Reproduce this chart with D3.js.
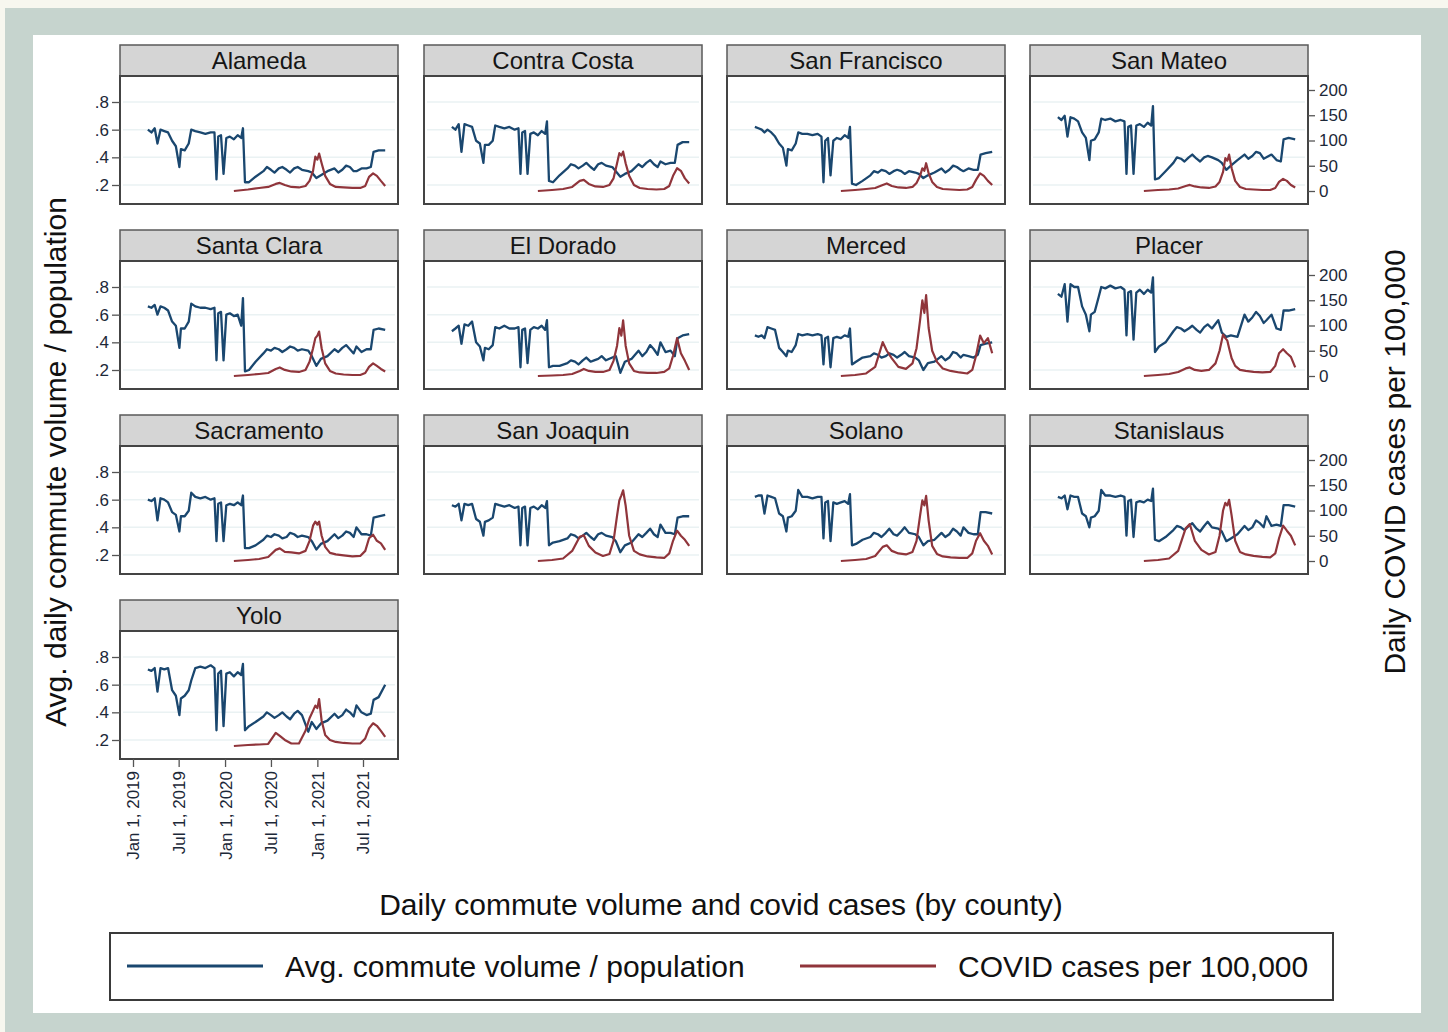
<!DOCTYPE html>
<html>
<head>
<meta charset="utf-8">
<script src="https://cdn.jsdelivr.net/npm/d3@7"></script>
<style>
  body { margin: 0; background: #f7f7ef; }
  text { font-family: "Liberation Sans", Arial, sans-serif; }
</style>
</head>
<body>
<svg width="1448" height="1032"></svg>
<script>

// Data

var commuteDates = ["2019-03-01","2019-03-15","2019-03-28","2019-04-08","2019-04-20","2019-05-05","2019-05-20",
  "2019-06-05","2019-06-20","2019-07-04","2019-07-10","2019-07-25","2019-08-10","2019-08-20","2019-09-05",
  "2019-09-25","2019-10-15","2019-11-05","2019-11-20","2019-11-28","2019-12-05","2019-12-16","2019-12-26",
  "2020-01-06","2020-01-20","2020-02-05","2020-02-20","2020-03-05","2020-03-12","2020-03-20","2020-04-05",
  "2020-05-01",
  "2020-06-01","2020-06-15","2020-07-01","2020-07-15","2020-08-01","2020-08-15","2020-09-01","2020-09-15",
  "2020-10-01","2020-10-15","2020-11-01","2020-11-26","2020-12-10","2020-12-28","2021-01-15","2021-02-10",
  "2021-03-10","2021-03-25","2021-04-10","2021-04-25","2021-05-10","2021-05-25","2021-06-05","2021-06-25",
  "2021-07-15","2021-08-01","2021-08-12","2021-09-01","2021-09-27"];

var covidDates = ["2020-02-05","2020-04-01","2020-05-15","2020-06-20","2020-07-20","2020-08-05","2020-08-25",
  "2020-09-20","2020-10-20","2020-11-15","2020-12-01","2020-12-15","2020-12-24","2021-01-01","2021-01-08",
  "2021-01-18","2021-02-01","2021-02-20","2021-03-15","2021-04-15","2021-05-20","2021-06-20","2021-07-10",
  "2021-07-25","2021-08-10","2021-08-25","2021-09-10","2021-09-27"];

var counties = ["Alameda","Contra Costa","San Francisco","San Mateo","Santa Clara","El Dorado","Merced",
  "Placer","Sacramento","San Joaquin","Solano","Stanislaus","Yolo"];

var alamedaCommute = [.60,.58,.61,.50,.60,.59,.58,.52,.48,.33,.46,.45,.50,.60,.59,.58,.57,.58,.58,.24,.55,.56,.28,.54,.55,.53,.56,.54,.61,.22,.22,.26,
  .30,.33,.31,.29,.32,.33,.31,.29,.32,.33,.31,.30,.29,.25,.27,.30,.32,.29,.31,.34,.33,.30,.30,.32,.32,.33,.44,.45,.45];
var alamedaCovid = [0,3,6,8,14,16,12,8,7,10,20,40,68,62,74,55,30,14,8,7,6,6,10,28,35,30,20,10];

var contraCostaCommute = [.62,.60,.64,.44,.64,.63,.62,.52,.50,.36,.49,.49,.52,.63,.62,.61,.62,.60,.61,.28,.58,.59,.28,.57,.58,.56,.59,.57,.66,.23,.22,.27,
  .32,.35,.34,.32,.34,.36,.33,.31,.35,.36,.34,.33,.30,.26,.28,.30,.35,.33,.36,.38,.35,.33,.37,.35,.36,.36,.49,.51,.51];
var contraCostaCovid = [0,2,4,8,20,22,14,9,8,12,25,55,75,70,78,55,30,12,6,4,3,4,10,30,45,40,25,15];

var sanFranciscoCommute = [.62,.61,.60,.58,.60,.58,.55,.50,.47,.34,.46,.45,.50,.58,.57,.57,.56,.57,.55,.22,.52,.54,.27,.52,.54,.53,.56,.54,.62,.21,.20,.23,
  .27,.30,.29,.31,.30,.28,.30,.31,.30,.28,.30,.29,.28,.25,.27,.29,.32,.29,.31,.34,.33,.31,.30,.32,.31,.31,.42,.43,.44];
var sanFranciscoCovid = [0,2,4,6,12,15,10,7,6,8,16,30,45,40,55,35,18,8,4,3,2,3,8,22,35,30,20,12];

var sanMateoCommute = [.69,.67,.70,.55,.69,.68,.66,.58,.54,.38,.52,.53,.58,.68,.67,.68,.66,.67,.66,.28,.62,.63,.28,.63,.64,.62,.65,.63,.77,.24,.25,.30,
  .36,.40,.39,.37,.40,.42,.39,.37,.40,.41,.40,.38,.36,.31,.34,.38,.42,.39,.41,.44,.43,.39,.40,.42,.38,.37,.53,.54,.53];
var sanMateoCovid = [0,2,3,5,10,12,9,7,6,9,18,38,65,60,72,45,20,8,4,3,2,2,6,18,24,20,12,7];

var santaClaraCommute = [.66,.65,.67,.60,.66,.65,.63,.55,.52,.36,.50,.50,.55,.68,.66,.65,.65,.64,.65,.27,.61,.62,.27,.60,.61,.59,.60,.52,.72,.19,.20,.26,
  .32,.35,.34,.36,.35,.33,.35,.37,.36,.34,.35,.34,.30,.23,.28,.30,.35,.33,.36,.38,.35,.32,.37,.33,.35,.35,.49,.50,.49];
var santaClaraCovid = [0,2,4,6,14,17,12,9,8,12,28,55,75,80,88,55,25,10,5,3,2,2,6,18,25,20,14,9];

var elDoradoCommute = [.48,.50,.52,.39,.53,.52,.55,.40,.37,.27,.36,.35,.38,.51,.50,.52,.50,.50,.51,.22,.49,.50,.25,.49,.51,.50,.52,.49,.56,.22,.23,.23,
  .25,.27,.26,.24,.27,.29,.26,.27,.28,.30,.27,.29,.30,.18,.26,.28,.34,.30,.33,.38,.35,.31,.40,.33,.34,.30,.43,.45,.46];
var elDoradoCovid = [0,1,2,4,10,14,10,8,8,12,30,60,95,80,110,60,25,10,7,6,6,8,15,40,75,45,30,12];

var mercedCommute = [.45,.44,.45,.43,.51,.50,.49,.36,.33,.30,.34,.33,.38,.46,.45,.46,.45,.46,.45,.24,.43,.44,.22,.43,.44,.43,.45,.44,.50,.24,.26,.29,
  .30,.32,.31,.29,.30,.32,.31,.29,.31,.33,.30,.29,.27,.20,.25,.26,.30,.27,.29,.33,.32,.29,.31,.30,.29,.31,.38,.39,.40];
var mercedCovid = [0,2,5,18,67,50,35,18,14,25,55,110,150,125,160,95,50,28,15,10,7,5,12,40,80,65,75,45];

var placerCommute = [.75,.73,.82,.55,.82,.80,.80,.66,.60,.48,.60,.62,.73,.80,.79,.81,.79,.80,.78,.45,.76,.77,.42,.76,.78,.75,.78,.76,.87,.33,.37,.40,
  .48,.51,.50,.48,.50,.52,.49,.47,.51,.53,.50,.56,.47,.44,.45,.44,.60,.55,.58,.62,.59,.54,.56,.60,.50,.49,.63,.63,.64];
var placerCovid = [0,2,4,8,15,17,12,10,12,25,50,82,75,70,55,35,20,12,10,8,7,8,20,45,53,45,38,17];

var sacramentoCommute = [.60,.59,.61,.45,.61,.60,.58,.51,.49,.37,.48,.48,.52,.65,.62,.61,.62,.60,.61,.30,.57,.58,.30,.56,.57,.56,.58,.56,.63,.25,.25,.27,
  .31,.34,.33,.35,.34,.32,.33,.36,.35,.33,.34,.33,.30,.24,.28,.30,.35,.32,.34,.37,.36,.33,.40,.35,.35,.34,.47,.48,.49];
var sacramentoCovid = [0,2,4,8,22,25,18,17,15,20,40,70,78,72,78,50,28,16,13,11,9,10,20,45,52,40,35,22];

var sanJoaquinCommute = [.56,.55,.57,.45,.57,.56,.57,.46,.44,.34,.44,.45,.47,.57,.56,.55,.56,.54,.55,.27,.54,.55,.27,.54,.55,.53,.56,.54,.59,.27,.29,.30,
  .32,.35,.34,.32,.34,.36,.33,.31,.35,.36,.34,.33,.30,.22,.27,.29,.35,.33,.36,.39,.35,.33,.42,.36,.36,.35,.47,.48,.48];
var sanJoaquinCovid = [0,2,5,20,48,51,30,17,10,14,40,90,120,130,140,110,50,20,13,9,7,6,15,40,60,50,42,30];

var solanoCommute = [.62,.63,.63,.50,.63,.62,.61,.50,.48,.37,.47,.48,.52,.67,.62,.62,.61,.62,.62,.32,.58,.59,.30,.58,.57,.58,.59,.57,.64,.27,.28,.31,
  .33,.36,.35,.33,.36,.39,.35,.34,.37,.40,.36,.35,.33,.27,.30,.31,.36,.33,.35,.39,.37,.34,.40,.36,.35,.35,.51,.51,.50];
var solanoCovid = [0,2,4,10,28,31,20,15,13,18,40,90,120,110,129,80,30,14,9,7,6,6,15,40,55,40,30,13];

var stanislausCommute = [.62,.61,.63,.53,.63,.62,.62,.50,.48,.40,.47,.48,.52,.67,.63,.63,.62,.63,.62,.34,.59,.60,.33,.58,.59,.58,.60,.59,.68,.31,.30,.33,
  .38,.41,.40,.38,.41,.43,.39,.37,.41,.44,.40,.39,.37,.30,.32,.35,.41,.38,.40,.45,.43,.40,.48,.41,.42,.41,.56,.56,.55];
var stanislausCovid = [0,2,5,20,65,73,40,22,13,18,50,100,115,110,121,90,40,18,13,10,8,7,15,45,70,60,50,31];

var yoloCommute = [.71,.70,.72,.55,.72,.71,.72,.56,.52,.38,.50,.52,.56,.63,.72,.73,.72,.74,.72,.27,.68,.70,.30,.68,.69,.66,.69,.67,.75,.27,.30,.33,
  .37,.40,.38,.36,.38,.40,.37,.35,.39,.41,.38,.26,.33,.28,.32,.34,.39,.36,.38,.42,.40,.37,.45,.40,.38,.39,.49,.51,.60];
var yoloCovid = [0,2,3,4,26,20,12,5,5,30,55,70,80,75,93,50,22,12,8,6,5,5,15,35,45,40,30,18];

var commuteSeries = [alamedaCommute, contraCostaCommute, sanFranciscoCommute, sanMateoCommute, santaClaraCommute,
  elDoradoCommute, mercedCommute, placerCommute, sacramentoCommute, sanJoaquinCommute, solanoCommute,
  stanislausCommute, yoloCommute];
var covidSeries = [alamedaCovid, contraCostaCovid, sanFranciscoCovid, sanMateoCovid, santaClaraCovid,
  elDoradoCovid, mercedCovid, placerCovid, sacramentoCovid, sanJoaquinCovid, solanoCovid,
  stanislausCovid, yoloCovid];

var leftTicks = [0.2, 0.4, 0.6, 0.8];
var rightTicks = [0, 50, 100, 150, 200];
var dateTicks = ["2019-01-01","2019-07-01","2020-01-01","2020-07-01","2021-01-01","2021-07-01"];

var blue = "#1a476f", red = "#90353b";

// Layout

var svg = d3.select("svg");

svg.append("rect").attr("x", 5).attr("y", 8).attr("width", 1443).attr("height", 1024).attr("fill", "#c6d4ce");
svg.append("rect").attr("x", 33).attr("y", 35).attr("width", 1388).attr("height", 978).attr("fill", "#fff");

var colX = [120, 424, 727, 1030],
    rowY = [45, 230, 415, 600],
    panelW = 278, headH = 31, plotH = 128;

var parseDate = d3.timeParse("%Y-%m-%d");

var x = d3.scaleTime()
    .domain([parseDate("2019-01-01"), parseDate("2021-07-01")])
    .range([13, 243]);
var yL = d3.scaleLinear().domain([0.2, 0.8]).range([109, 26]);
var yR = d3.scaleLinear().domain([0, 200]).range([115, 14]);

var lineL = d3.line()
    .x(function(d) { return x(d.date); })
    .y(function(d) { return yL(d.v); });
var lineR = d3.line()
    .x(function(d) { return x(d.date); })
    .y(function(d) { return yR(d.v); });

function pairs(dates, vals) {
  return vals.map(function(v, i) { return {date: parseDate(dates[i]), v: v}; });
}

function styleAxis(a, size) {
  a.select(".domain").remove();
  a.selectAll(".tick line").attr("stroke", "#555").attr("stroke-width", 1.3);
  a.selectAll(".tick text").attr("fill", "#1c2838").attr("font-size", size)
    .style("font-family", "'Liberation Sans', Arial, sans-serif");
}

counties.forEach(function(name, i) {
  var col = i % 4, row = Math.floor(i / 4);
  var g = svg.append("g").attr("transform", "translate(" + colX[col] + "," + rowY[row] + ")");

  // strip label
  g.append("rect").attr("width", panelW).attr("height", headH)
    .attr("fill", "#d5d5d5").attr("stroke", "#5a5a5a").attr("stroke-width", 1.5);
  g.append("text").attr("x", panelW / 2).attr("y", 24)
    .attr("text-anchor", "middle").attr("font-size", 24).attr("fill", "#151515").text(name);

  var p = g.append("g").attr("transform", "translate(0," + headH + ")");
  p.append("rect").attr("width", panelW).attr("height", plotH)
    .attr("fill", "#fff").attr("stroke", "#444").attr("stroke-width", 2);

  p.selectAll(".grid").data(leftTicks).enter().append("line")
    .attr("x1", 3).attr("x2", panelW - 3)
    .attr("y1", function(d) { return yL(d); })
    .attr("y2", function(d) { return yL(d); })
    .attr("stroke", "#eaf2f3").attr("stroke-width", 1.5);

  p.append("path").datum(pairs(commuteDates, commuteSeries[i]))
    .attr("d", lineL).attr("fill", "none").attr("stroke", blue)
    .attr("stroke-width", 2.3).attr("stroke-linejoin", "round");
  p.append("path").datum(pairs(covidDates, covidSeries[i]))
    .attr("d", lineR).attr("fill", "none").attr("stroke", red)
    .attr("stroke-width", 2.2).attr("stroke-linejoin", "round");

  if (col == 0) {
    var al = p.append("g")
      .call(d3.axisLeft(yL).tickValues(leftTicks).tickSize(8).tickPadding(3)
        .tickFormat(function(d) { return d3.format(".1f")(d).replace(/^0/, ""); }));
    styleAxis(al, 17);
  }
  if (col == 3) {
    var ar = p.append("g").attr("transform", "translate(" + panelW + ",0)")
      .call(d3.axisRight(yR).tickValues(rightTicks).tickSize(7).tickPadding(4));
    styleAxis(ar, 17);
  }
  if (i == counties.length - 1) {
    var ab = p.append("g").attr("transform", "translate(0," + plotH + ")")
      .call(d3.axisBottom(x).tickValues(dateTicks.map(parseDate)).tickSize(8)
        .tickFormat(d3.timeFormat("%b %-d, %Y")));
    styleAxis(ab, 17);
    ab.selectAll(".tick text")
      .attr("transform", "rotate(-90)")
      .attr("x", -12).attr("y", 0).attr("dy", "0.35em")
      .style("text-anchor", "end");
  }
});

// titles
svg.append("text").attr("transform", "translate(66,462) rotate(-90)")
  .attr("text-anchor", "middle").attr("font-size", 30).attr("fill", "#111")
  .text("Avg. daily commute volume / population");
svg.append("text").attr("transform", "translate(1405,462) rotate(-90)")
  .attr("text-anchor", "middle").attr("font-size", 30).attr("fill", "#111")
  .text("Daily COVID cases per 100,000");
svg.append("text").attr("x", 721).attr("y", 915)
  .attr("text-anchor", "middle").attr("font-size", 30).attr("fill", "#111")
  .text("Daily commute volume and covid cases (by county)");

// legend
var legend = [{label: "Avg. commute volume / population", color: blue, x: 127},
              {label: "COVID cases per 100,000", color: red, x: 800}];
svg.append("rect").attr("x", 110).attr("y", 933).attr("width", 1223).attr("height", 67)
  .attr("fill", "#fff").attr("stroke", "#3a3a3a").attr("stroke-width", 2);
var lg = svg.selectAll(".leg").data(legend).enter().append("g").attr("class", "leg");
lg.append("line")
  .attr("x1", function(d) { return d.x; }).attr("x2", function(d) { return d.x + 136; })
  .attr("y1", 966).attr("y2", 966)
  .attr("stroke", function(d) { return d.color; }).attr("stroke-width", 3);
lg.append("text")
  .attr("x", function(d) { return d.x + 158; }).attr("y", 977)
  .attr("font-size", 30).attr("fill", "#111")
  .text(function(d) { return d.label; });

</script>
</body>
</html>
